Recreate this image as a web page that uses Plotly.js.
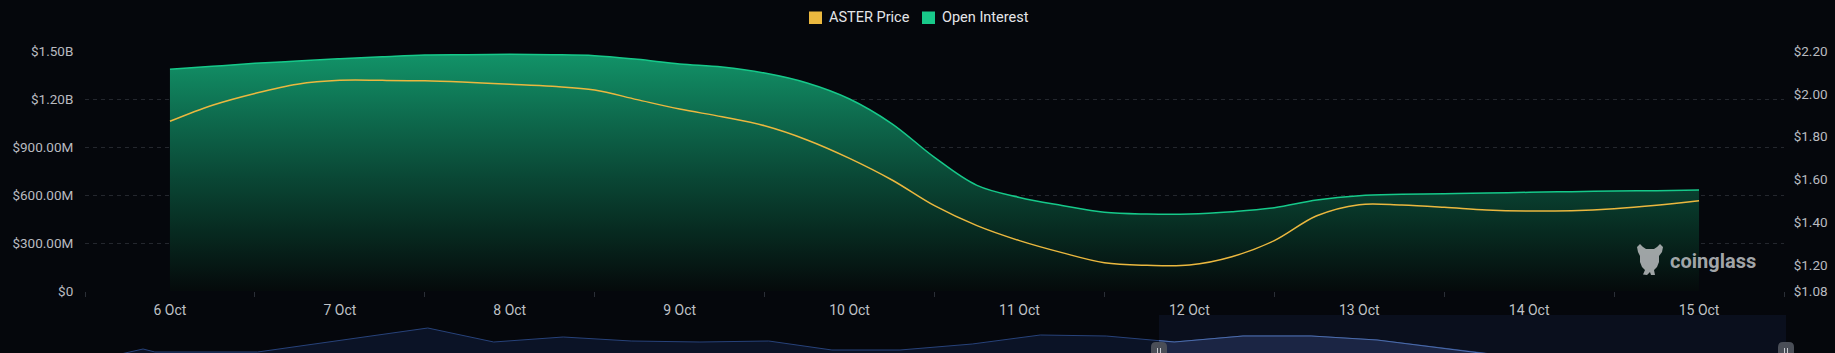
<!DOCTYPE html>
<html>
<head>
<meta charset="utf-8">
<script src="https://cdn.plot.ly/plotly-3.0.1.min.js"></script>
<style>
html,body{margin:0;padding:0;background:#05070c;}
#chart{width:1835px;height:353px;}
</style>
</head>
<body>
<div id="chart"></div>
<script>
// ---------- data ----------
const times = [
  '2025-10-06 00:00','2025-10-06 06:00','2025-10-06 12:00','2025-10-06 18:00',
  '2025-10-07 00:00','2025-10-07 06:00','2025-10-07 12:00','2025-10-07 18:00',
  '2025-10-08 00:00','2025-10-08 06:00','2025-10-08 12:00','2025-10-08 18:00',
  '2025-10-09 00:00','2025-10-09 06:00','2025-10-09 12:00','2025-10-09 18:00',
  '2025-10-10 00:00','2025-10-10 06:00','2025-10-10 12:00','2025-10-10 18:00',
  '2025-10-11 00:00','2025-10-11 06:00','2025-10-11 12:00','2025-10-11 18:00',
  '2025-10-12 00:00','2025-10-12 06:00','2025-10-12 12:00','2025-10-12 18:00',
  '2025-10-13 00:00','2025-10-13 06:00','2025-10-13 12:00','2025-10-13 18:00',
  '2025-10-14 00:00','2025-10-14 06:00','2025-10-14 12:00','2025-10-14 18:00',
  '2025-10-15 00:00'
];
// Open Interest, in billions of USD
const openInterest = [
  1.386,1.404,1.423,1.437,
  1.452,1.464,1.475,1.477,
  1.479,1.477,1.471,1.448,
  1.419,1.400,1.362,1.300,
  1.200,1.045,0.835,0.660,
  0.585,0.535,0.492,0.481,
  0.481,0.496,0.521,0.569,
  0.596,0.604,0.608,0.612,
  0.617,0.621,0.625,0.627,
  0.631
];
// ASTER price, USD
const asterPrice = [
  1.872,1.947,2.002,2.045,
  2.063,2.063,2.061,2.054,
  2.045,2.035,2.018,1.973,
  1.929,1.893,1.851,1.785,
  1.699,1.598,1.478,1.385,
  1.315,1.259,1.212,1.200,
  1.201,1.240,1.315,1.431,
  1.483,1.481,1.471,1.458,
  1.453,1.455,1.464,1.480,
  1.501
];
const dayTicks = ['2025-10-06','2025-10-07','2025-10-08','2025-10-09','2025-10-10',
                  '2025-10-11','2025-10-12','2025-10-13','2025-10-14','2025-10-15'];
const dayLabels = ['6 Oct','7 Oct','8 Oct','9 Oct','10 Oct','11 Oct','12 Oct','13 Oct','14 Oct','15 Oct'];
const halfDayTicks = ['2025-10-05 12:00','2025-10-06 12:00','2025-10-07 12:00','2025-10-08 12:00',
  '2025-10-09 12:00','2025-10-10 12:00','2025-10-11 12:00','2025-10-12 12:00','2025-10-13 12:00',
  '2025-10-14 12:00','2025-10-15 12:00'];
const leftTickVals = [0,0.3,0.6,0.9,1.2,1.5];
const leftTickText = ['$0','$300.00M','$600.00M','$900.00M','$1.20B','$1.50B'];
const rightTickVals = [1.08,1.2,1.4,1.6,1.8,2.0,2.2];
const rightTickText = ['$1.08','$1.20','$1.40','$1.60','$1.80','$2.00','$2.20'];
// navigator (overview) series: days relative to 6 Oct, relative height
const navDay = [-15.4,-14.63,-14.46,-13.97,-12.98,-10.53,-9.58,-8.58,-7.60,-6.61,-5.62,-4.71,
  -3.73,-2.69,-1.71,-0.76,0.22,1.21,2.19,3.14,4.51,5.5,6.5,7.5,8.5,9.0];
const navValue = [2,14,11,11,11,35,21,26,22,21,22,13,13,19,28,27,21,27,27,23,11,3,2,3,3,3];

// ---------- helpers (pixel -> paper) ----------
const W = 1835, H = 353;
const px = x => x / W;
const py = y => 1 - y / H;

const GREEN = '#16c98a';
const YELLOW = '#ebb83f';

const traces = [
  {x: navDay, y: navValue, xaxis: 'x2', yaxis: 'y3', type: 'scatter', mode: 'lines',
   line: {color: '#27427a', width: 1}, fill: 'tozeroy', fillcolor: '#0b1326', hoverinfo: 'skip'},
  {x: navDay, y: navValue, xaxis: 'x4', yaxis: 'y3', type: 'scatter', mode: 'lines',
   line: {color: '#4c6cab', width: 1.2}, fill: 'tozeroy', fillcolor: '#1b2544', hoverinfo: 'skip'},
  {x: times, y: openInterest, name: 'Open Interest', type: 'scatter', mode: 'lines',
   xaxis: 'x', yaxis: 'y',
   line: {color: GREEN, width: 1.5, shape: 'spline', smoothing: 1},
   fill: 'tozeroy',
   fillgradient: {type: 'vertical', start: 0, stop: 1.48,
     colorscale: [[0, '#050a0b'], [0.25, '#072a20'], [0.5, '#0a4a37'], [0.75, '#0e6d4f'], [1, '#129368']]}},
  {x: times, y: asterPrice, name: 'ASTER Price', type: 'scatter', mode: 'lines',
   xaxis: 'x', yaxis: 'y2',
   line: {color: YELLOW, width: 1.5, shape: 'spline', smoothing: 1}}
];

function handle(x0) {
  const x1 = x0 + 16, y0 = 342, y1 = 360, r = 5;
  return {type: 'path', xref: 'paper', yref: 'paper', layer: 'above',
    path: `M ${px(x0)},${py(y1)} L ${px(x0)},${py(y0 + r)} Q ${px(x0)},${py(y0)} ${px(x0 + r)},${py(y0)} ` +
          `L ${px(x1 - r)},${py(y0)} Q ${px(x1)},${py(y0)} ${px(x1)},${py(y0 + r)} L ${px(x1)},${py(y1)} Z`,
    fillcolor: '#4a4e57', line: {width: 0}};
}
function grip(x) {
  return {type: 'line', xref: 'paper', yref: 'paper', layer: 'above',
    x0: px(x), x1: px(x), y0: py(348), y1: py(353), line: {color: '#c8cad0', width: 1}};
}

// bull-head watermark silhouette
const iconPts = [[1637,247],[1640,244],[1643,247],[1646,249],[1654,249],[1657,247],[1660,244],[1663,247],
  [1662,252],[1659,256],[1659,262],[1657,267],[1654,270],[1655,275],[1651,275],[1650,272],[1647,275],
  [1643,274.5],[1645,270],[1642,267],[1640,262],[1640,256],[1638,252]];
const iconPath = 'M ' + iconPts.map(p => px(p[0]) + ',' + py(p[1])).join(' L ') + ' Z';

const shapes = [
  {type: 'rect', xref: 'paper', yref: 'paper', layer: 'below',
   x0: px(1159), x1: px(1786), y0: 0, y1: py(315), fillcolor: '#0a0f1d', line: {width: 0}},
  handle(1151), handle(1778),
  grip(1157.5), grip(1160.5), grip(1784.5), grip(1787.5),
  // legend swatches
  {type: 'rect', xref: 'paper', yref: 'paper', x0: px(809), x1: px(822), y0: py(24), y1: py(11.5),
   fillcolor: YELLOW, line: {width: 0}},
  {type: 'rect', xref: 'paper', yref: 'paper', x0: px(922), x1: px(935), y0: py(24), y1: py(11.5),
   fillcolor: '#18c98a', line: {width: 0}},
  // watermark icon
  {type: 'path', xref: 'paper', yref: 'paper', layer: 'above', path: iconPath,
   fillcolor: 'rgba(175,178,181,0.9)', line: {width: 0}}
];

const annotations = [
  {text: 'ASTER Price', xref: 'paper', yref: 'paper', x: px(827), y: py(17.5), xanchor: 'left', yanchor: 'middle',
   showarrow: false, font: {family: 'Roboto, sans-serif', size: 14.5, color: '#e4e5e8'}},
  {text: 'Open Interest', xref: 'paper', yref: 'paper', x: px(940), y: py(17.5), xanchor: 'left', yanchor: 'middle',
   showarrow: false, font: {family: 'Roboto, sans-serif', size: 14.5, color: '#e4e5e8'}},
  {text: 'coinglass', xref: 'paper', yref: 'paper', x: px(1668), y: py(261), xanchor: 'left', yanchor: 'middle',
   showarrow: false, font: {family: 'Roboto, sans-serif', size: 20, weight: 700, color: 'rgba(178,181,184,0.92)'}}
];

const axisFont = {family: 'Roboto, sans-serif', size: 13.5, color: '#b9bbc0'};

const layout = {
  width: W, height: H,
  margin: {l: 0, r: 0, t: 0, b: 0},
  paper_bgcolor: '#05070c', plot_bgcolor: 'rgba(0,0,0,0)',
  showlegend: false,
  font: {family: 'Roboto, sans-serif', color: '#b9bbc0', size: 14},
  xaxis: {type: 'date', domain: [px(85), px(1784)], range: ['2025-10-05 12:00', '2025-10-15 12:00'],
    anchor: 'y', tickmode: 'array', tickvals: dayTicks, ticktext: dayLabels,
    ticks: 'outside', ticklen: 6, tickcolor: 'rgba(0,0,0,0)',
    tickfont: {family: 'Roboto, sans-serif', size: 14, color: '#bfc1c6'},
    showgrid: false, zeroline: false, showline: false, fixedrange: true,
    minor: {tickmode: 'array', tickvals: halfDayTicks, ticks: 'outside', ticklen: 5, tickcolor: '#2a2e36', showgrid: false}},
  yaxis: {domain: [py(291), py(51)], range: [0, 1.5], anchor: 'x',
    tickmode: 'array', tickvals: leftTickVals, ticktext: leftTickText,
    ticks: 'outside', ticklen: 8, tickcolor: 'rgba(0,0,0,0)', tickfont: axisFont,
    showgrid: true, gridcolor: '#24272e', gridwidth: 1, griddash: '4px,4px',
    zeroline: false, showline: false, fixedrange: true},
  yaxis2: {overlaying: 'y', side: 'right', anchor: 'x', range: [1.08, 2.2],
    tickmode: 'array', tickvals: rightTickVals, ticktext: rightTickText,
    ticks: 'outside', ticklen: 6, tickcolor: 'rgba(0,0,0,0)', tickfont: axisFont,
    showgrid: false, zeroline: false, showline: false, fixedrange: true},
  xaxis2: {domain: [px(85), px(1784)], range: [-15.466, 9], anchor: 'y3', visible: false, fixedrange: true},
  xaxis4: {domain: [px(1159), px(1784)], range: [0, 9], anchor: 'y3', visible: false, fixedrange: true},
  yaxis3: {domain: [0, py(315)], range: [10, 48], anchor: 'x2', visible: false, fixedrange: true},
  shapes: shapes,
  annotations: annotations
};

Plotly.newPlot('chart', traces, layout, {displayModeBar: false, staticPlot: true});
</script>
</body>
</html>
